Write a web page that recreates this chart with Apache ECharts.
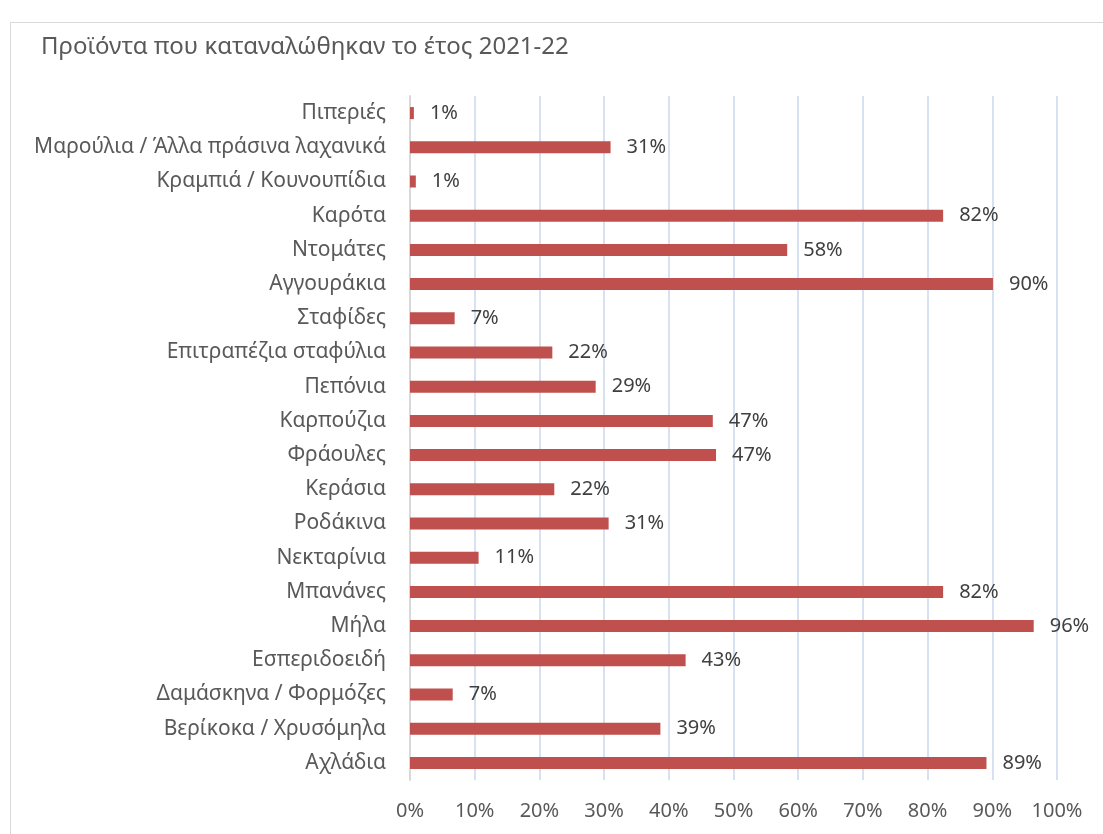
<!DOCTYPE html>
<html>
<head>
<meta charset="utf-8">
<script src="https://cdn.jsdelivr.net/npm/echarts@6/dist/echarts.min.js"></script>
<style>
  html, body { margin: 0; padding: 0; background: #fff; }
  #frame { position: absolute; left: 10px; top: 22px; width: 1110px; height: 830px; border: 1px solid #d9d9d9; }
  #chart { position: absolute; left: 0; top: 0; width: 1103px; height: 834px; }
</style>
</head>
<body>
<div id="frame"></div>
<div id="chart"></div>
<script>
// categories, top to bottom
var categories = [
  'Πιπεριές', 'Μαρούλια / Άλλα πράσινα λαχανικά', 'Κραμπιά / Κουνουπίδια', 'Καρότα',
  'Ντομάτες', 'Αγγουράκια', 'Σταφίδες', 'Επιτραπέζια σταφύλια', 'Πεπόνια', 'Καρπούζια',
  'Φράουλες', 'Κεράσια', 'Ροδάκινα', 'Νεκταρίνια', 'Μπανάνες', 'Μήλα', 'Εσπεριδοειδή',
  'Δαμάσκηνα / Φορμόζες', 'Βερίκοκα / Χρυσόμηλα', 'Αχλάδια'
];
// share (%)
var values = [0.6, 31.0, 0.9, 82.4, 58.3, 90.1, 6.9, 22.0, 28.7, 46.8,
  47.3, 22.3, 30.7, 10.6, 82.4, 96.4, 42.6, 6.6, 38.7, 89.1];
var labels = ['1%', '31%', '1%', '82%', '58%', '90%', '7%', '22%', '29%', '47%',
  '47%', '22%', '31%', '11%', '82%', '96%', '43%', '7%', '39%', '89%'];

var font = '"Noto Sans", "Open Sans", sans-serif';
var myChart = echarts.init(document.getElementById('chart'));
var option = {
  animation: false,
  title: {
    text: 'Προϊόντα που καταναλώθηκαν το έτος 2021-22',
    left: 36,
    top: 30,
    textStyle: { color: '#595959', fontSize: 24, fontWeight: 'normal', fontFamily: font }
  },
  grid: { left: 410, right: 46, top: 96, bottom: 54, containLabel: false },
  xAxis: {
    type: 'value',
    min: 0,
    max: 100,
    interval: 10,
    axisLine: { show: false },
    axisTick: { show: false },
    splitLine: { show: true, lineStyle: { color: '#c9d8ec', width: 1.5 } },
    axisLabel: {
      color: '#595959', fontSize: 20, fontFamily: font, margin: 21,
      formatter: function (v) { return v + '%'; }
    }
  },
  yAxis: {
    type: 'category',
    data: categories,
    inverse: true,
    axisLine: { show: true, lineStyle: { color: '#d9d9d9', width: 2 } },
    axisTick: { show: false },
    axisLabel: { color: '#595959', fontSize: 21, fontFamily: font, margin: 24 }
  },
  series: [{
    type: 'bar',
    data: values,
    barWidth: 12,
    itemStyle: { color: '#c0504d' },
    label: {
      show: true,
      position: 'right',
      distance: 16,
      color: '#404040',
      fontSize: 20,
      fontFamily: font,
      formatter: function (p) { return labels[p.dataIndex]; }
    }
  }]
};
myChart.setOption(option);
</script>
</body>
</html>
